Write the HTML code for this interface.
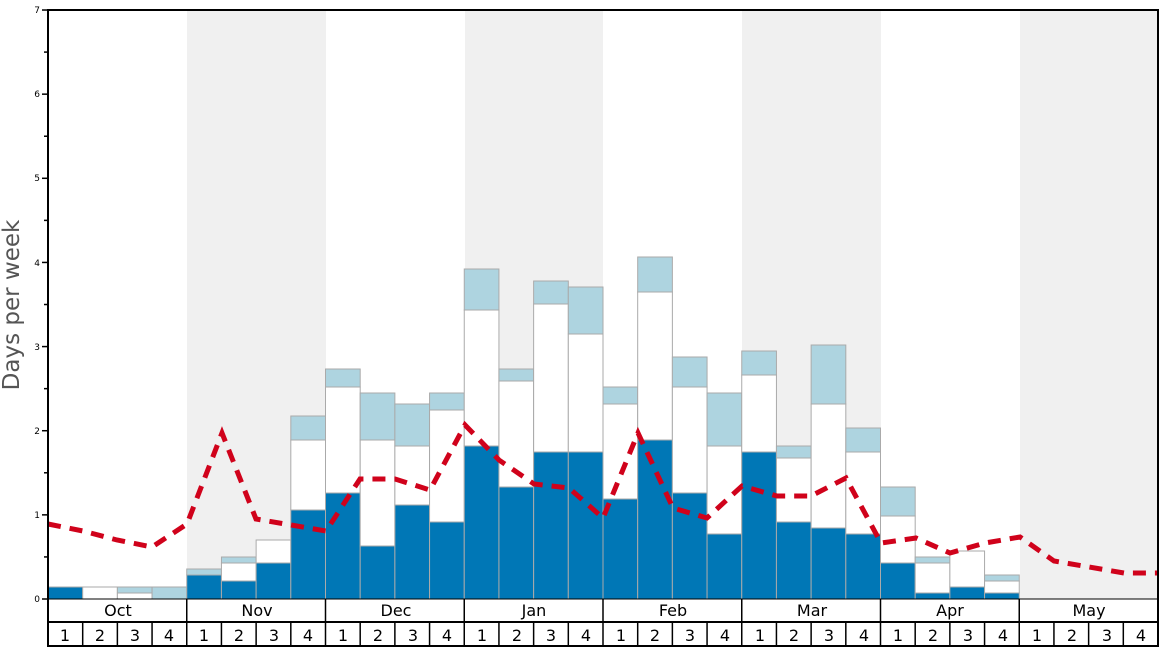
<!DOCTYPE html>
<html><head><meta charset="utf-8"><style>body{margin:0;background:#fff}svg{display:block;font-family:"DejaVu Sans","Liberation Sans",sans-serif}</style></head><body>
<svg id="s" width="1168" height="648" viewBox="0 0 1168 648">
<rect x="187" y="10" width="139" height="589" fill="#f0f0f0"/>
<rect x="465" y="10" width="138" height="589" fill="#f0f0f0"/>
<rect x="742" y="10" width="139" height="589" fill="#f0f0f0"/>
<rect x="1020" y="10" width="138" height="589" fill="#f0f0f0"/>
<g id="bars"></g>
<polyline fill="none" stroke="#d0021b" stroke-width="5" stroke-dasharray="13,9" points="48,524 83,531 117,540 152,547 187,524 222,433 256,519 291,525 326,531 360,479 395,479 430,490 465,425 499,460 534,484 569,488 603,518 638,433 673,508 707,518 742,486 777,496 811,496 846,478 881,543 916,538 950,553 985,543 1020,537 1054,561 1089,567 1124,573 1158,573"/>
<rect x="48" y="10" width="1110" height="636" fill="none" stroke="#000" stroke-width="2"/>
<g id="ticks" stroke="#000" stroke-width="1.5"></g>
<g font-size="9" text-anchor="end" fill="#000">
<text x="40" y="602">0</text><text x="40" y="518">1</text><text x="40" y="434">2</text><text x="40" y="350">3</text><text x="40" y="266">4</text><text x="40" y="181">5</text><text x="40" y="97">6</text><text x="40" y="13">7</text>
</g>
<text transform="translate(19,305) rotate(-90)" font-size="23" fill="#555" text-anchor="middle">Days per week</text>
<line x1="48" y1="599" x2="1158" y2="599" stroke="#000" stroke-width="1"/>
<line x1="48" y1="622" x2="1158" y2="622" stroke="#000" stroke-width="2"/>
<g font-size="16" text-anchor="middle" fill="#000">
<text x="118" y="616">Oct</text><text x="257" y="616">Nov</text><text x="396" y="616">Dec</text><text x="534" y="616">Jan</text><text x="673" y="616">Feb</text><text x="812" y="616">Mar</text><text x="950" y="616">Apr</text><text x="1089" y="616">May</text>
</g>
<g id="wk" font-size="16" text-anchor="middle" fill="#000">
<text x="65" y="641">1</text><text x="100" y="641">2</text><text x="135" y="641">3</text><text x="169" y="641">4</text>
<text x="204" y="641">1</text><text x="239" y="641">2</text><text x="274" y="641">3</text><text x="308" y="641">4</text>
<text x="343" y="641">1</text><text x="378" y="641">2</text><text x="413" y="641">3</text><text x="447" y="641">4</text>
<text x="482" y="641">1</text><text x="517" y="641">2</text><text x="551" y="641">3</text><text x="586" y="641">4</text>
<text x="621" y="641">1</text><text x="655" y="641">2</text><text x="690" y="641">3</text><text x="725" y="641">4</text>
<text x="760" y="641">1</text><text x="794" y="641">2</text><text x="829" y="641">3</text><text x="864" y="641">4</text>
<text x="898" y="641">1</text><text x="933" y="641">2</text><text x="968" y="641">3</text><text x="1003" y="641">4</text>
<text x="1037" y="641">1</text><text x="1072" y="641">2</text><text x="1107" y="641">3</text><text x="1141" y="641">4</text>
</g>
<g id="sep" stroke="#000"></g>
</svg>
<script>
var d=[[587,587,587],[599,587,587],[599,593,587],[599,599,587],
[575,575,569],[581,563,557],[563,540,540],[510,440,416],
[493,387,369],[546,440,393],[505,446,404],[522,410,393],
[446,310,269],[487,381,369],[452,304,281],[452,334,287],
[499,404,387],[440,292,257],[493,387,357],[534,446,393],
[452,375,351],[522,458,446],[528,404,345],[534,452,428],
[563,516,487],[593,563,557],[587,551,551],[593,581,575],
[599,599,599],[599,599,599],[599,599,599],[599,599,599]];
var w=1110/32,g='',ns='http://www.w3.org/2000/svg';
function r(x,y,h,f){if(h<=0)return '';return '<rect x="'+x+'" y="'+y+'" width="'+w+'" height="'+h+'" fill="'+f+'" stroke="#aaa" stroke-width="1"/>';}
d.forEach(function(v,i){var x=48+w*i;g+=r(x,v[0],599-v[0],'#0077b6');g+=r(x,v[1],v[0]-v[1],'#fff');g+=r(x,v[2],v[1]-v[2],'#aed4e0');});
document.getElementById('bars').innerHTML=g;
var t='';for(var k=0;k<=14;k++){var y=599-k*84.14/2;t+='<line x1="'+(k%2?44:42)+'" y1="'+y+'" x2="48" y2="'+y+'"/>';}
document.getElementById('ticks').innerHTML=t;
var s='';for(var i=1;i<32;i++){var x=48+w*i;s+='<line x1="'+x+'" y1="'+(i%4?622:599)+'" x2="'+x+'" y2="646" stroke-width="'+(i%4?1.5:1.5)+'"/>';}
document.getElementById('sep').innerHTML=s;
</script>
</body></html>
